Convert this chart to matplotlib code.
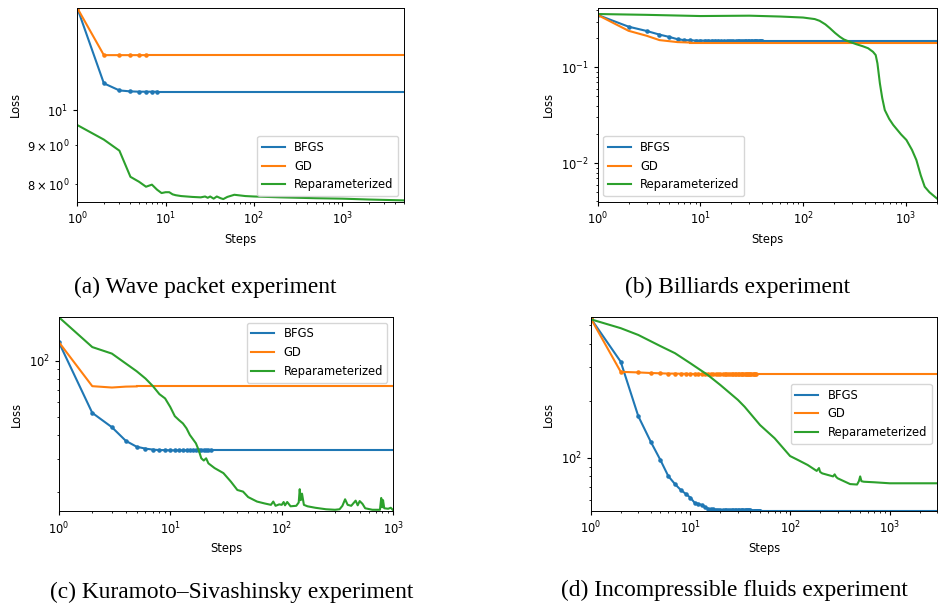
import matplotlib
matplotlib.use("Agg")
import matplotlib.pyplot as plt
from matplotlib.ticker import NullFormatter

plt.rcParams['font.size'] = 8.3
plt.rcParams['axes.linewidth'] = 0.7
plt.rcParams['xtick.major.size'] = 3
plt.rcParams['ytick.major.size'] = 3
plt.rcParams['xtick.minor.size'] = 1.7
plt.rcParams['ytick.minor.size'] = 1.7

names = ["BFGS", "GD", "Reparameterized"]
colors = ["tab:blue", "tab:orange", "tab:green"]

# (a) wave packet -- per-iteration losses start at step 1
a_end = 5000
a_bfgs = [13.6, 10.84, 10.61, 10.58, 10.57, 10.57, 10.57, 10.57]
a_gd = [13.6, 11.8, 11.8, 11.8, 11.8, 11.8]
a_rep_steps = [1, 2, 3, 4, 5, 6, 7, 8, 9, 10, 11, 12, 13, 15, 20, 25, 28, 30, 32, 35,
               38, 42, 45, 50, 60, 80, 100, 200, 500, 1000, 2000, 5000]
a_rep = [9.56, 9.15, 8.85, 8.18, 8.06, 7.94, 7.99, 7.87, 7.79, 7.81, 7.81, 7.76, 7.74,
         7.72, 7.70, 7.69, 7.71, 7.68, 7.71, 7.66, 7.71, 7.67, 7.65, 7.70, 7.75, 7.72,
         7.71, 7.69, 7.67, 7.66, 7.64, 7.62]

# (b) billiards
b_end = 2000
b_bfgs = [0.351, 0.265, 0.239, 0.219, 0.207, 0.196, 0.192, 0.191, 0.190, 0.190,
          0.190, 0.190, 0.190, 0.190, 0.190, 0.189, 0.189, 0.189, 0.189, 0.189,
          0.189, 0.189, 0.189, 0.189, 0.189, 0.189, 0.189, 0.189, 0.189, 0.189,
          0.189, 0.189, 0.189, 0.189, 0.189, 0.189, 0.189, 0.189, 0.189, 0.189]
b_gd = [0.351, 0.240, 0.213, 0.192, 0.187, 0.183, 0.182, 0.181]
b_rep_steps = [1, 3, 10, 30, 60, 100, 130, 145, 165, 183, 205, 228, 250, 275, 330, 380,
               430, 480, 510, 530, 560, 590, 625, 690, 755, 900, 1015, 1150, 1270, 1400,
               1530, 1700, 2000]
b_rep = [0.359, 0.352, 0.342, 0.345, 0.338, 0.330, 0.318, 0.305, 0.280, 0.255, 0.228,
         0.208, 0.195, 0.187, 0.174, 0.166, 0.158, 0.145, 0.134, 0.110, 0.068, 0.048,
         0.0359, 0.029, 0.0251, 0.020, 0.0175, 0.0138, 0.0108, 0.0075, 0.0057, 0.0050,
         0.00432]

# (c) Kuramoto-Sivashinsky
c_end = 1000
c_bfgs = [125.7, 52.6, 44.1, 37.3, 34.7, 33.9, 33.5, 33.3, 33.3, 33.2, 33.2, 33.2,
          33.2, 33.2, 33.2, 33.2, 33.2, 33.2, 33.2, 33.2, 33.2, 33.2, 33.2]
c_gd = [125.7, 73.0, 71.8, 72.6, 72.8]
c_rep_steps = [1, 2, 3, 4, 5, 6, 7, 8, 9, 10, 11, 12, 13, 14, 15, 17, 18, 19, 20, 21,
               22, 25, 30, 35, 40, 45, 50, 60, 70, 80, 84, 88, 95, 100, 104, 107, 112,
               120, 135, 142, 145, 148, 152, 158, 170, 200, 250, 300, 330, 350, 370, 390,
               420, 460, 480, 500, 530, 560, 650, 760, 780, 795, 810, 830, 900, 950, 1000]
c_rep = [170.6, 118.0, 108.9, 96.4, 87.7, 80.2, 73.0, 66.2, 62.8, 56.6, 50.5, 48.1,
         46.2, 43.5, 40.1, 36.2, 33.3, 30.1, 29.3, 30.1, 28.3, 26.7, 25.1, 22.6, 20.4,
         20.0, 18.7, 17.7, 17.3, 17.0, 17.7, 16.8, 17.1, 17.0, 17.6, 16.9, 17.6, 16.7,
         16.8, 17.5, 20.6, 18.0, 19.5, 17.0, 16.7, 16.4, 16.1, 16.0, 16.1, 16.8, 18.2,
         17.0, 16.8, 17.9, 16.9, 17.8, 17.2, 16.3, 16.0, 16.0, 18.5, 16.5, 18.0, 16.3,
         16.2, 16.4, 15.9]

# (d) incompressible fluids
d_end = 3000
d_bfgs = [543, 321, 166, 121.8, 97.6, 80.3, 72.9, 67.9, 64.7, 61.8, 58.2, 57.3, 56.6,
          55.2, 54.1, 53.9, 53.7, 53.5, 53.4, 53.3, 53.3, 53.2, 53.2, 53.2, 53.2, 53.1,
          53.1, 53.1, 53.1, 53.1, 53.0, 53.0, 53.0, 53.0, 53.0, 53.0, 53.0, 53.0, 53.0,
          53.0, 52.9, 52.9, 52.9, 52.9, 52.9, 52.9, 52.9, 52.9, 52.9, 52.9]
d_gd = [543, 284, 282, 280, 279, 278, 278, 277.5, 277.5, 277, 277, 277, 277, 277, 277,
        276.5, 276.5, 276.5, 276.5, 276.5, 276.5, 276.5, 276.5, 276.5, 276.5, 276,
        276, 276, 276, 276, 276, 276, 276, 276, 276, 276, 276, 276, 276, 276, 276, 276,
        276, 276, 276]
d_rep_steps = [1, 2, 3, 5, 7, 10, 15, 20, 30, 35, 50, 70, 100, 120, 150, 185, 195, 200,
               210, 270, 280, 290, 300, 400, 470, 490, 505, 520, 550, 700, 1000, 3000]
d_rep = [537, 482, 444, 388, 356, 315, 273, 242, 202, 186, 149, 127, 102.4, 97.6, 91.9,
         85.5, 88.5, 84.5, 83.0, 80.0, 82.0, 79.5, 78.2, 72.9, 72.5, 75.5, 80.0, 75.5,
         75.0, 74.5, 73.6, 73.6]

panels = [
    dict(pos=[0.0823, 0.6688, 0.3479, 0.3181], end=a_end, bfgs=a_bfgs, gd=a_gd, gd_marks=True,
         rep_steps=a_rep_steps, rep=a_rep, ylim=(7.59, 13.6), loc="lower right", minor_labels=True,
         caption="(a) Wave packet experiment", cap_xy=(205, 287)),
    dict(pos=[0.6365, 0.6688, 0.3610, 0.3181], end=b_end, bfgs=b_bfgs, gd=b_gd, gd_marks=False,
         rep_steps=b_rep_steps, rep=b_rep, ylim=(0.00398, 0.415), loc="lower left", minor_labels=False,
         caption="(b) Billiards experiment", cap_xy=(738, 287)),
    dict(pos=[0.0625, 0.1604, 0.3563, 0.3190], end=c_end, bfgs=c_bfgs, gd=c_gd, gd_marks=False,
         rep_steps=c_rep_steps, rep=c_rep, ylim=(15.7, 170.6), loc="upper right", minor_labels=False,
         caption="(c) Kuramoto\u2013Sivashinsky experiment", cap_xy=(232, 592)),
    dict(pos=[0.6291, 0.1609, 0.3691, 0.3186], end=d_end, bfgs=d_bfgs, gd=d_gd, gd_marks=True,
         rep_steps=d_rep_steps, rep=d_rep, ylim=(52.6, 552), loc="center right", minor_labels=False,
         caption="(d) Incompressible fluids experiment", cap_xy=(734, 590)),
]

fig = plt.figure(figsize=(9.39, 6.09), dpi=100)
W, H = 939, 609

for p in panels:
    ax = fig.add_axes(p["pos"])
    for name, color, vals, marks in [(names[0], colors[0], p["bfgs"], True),
                                     (names[1], colors[1], p["gd"], p["gd_marks"])]:
        steps = list(range(1, len(vals) + 1))
        ax.plot(steps, vals, color=color, lw=1.5, marker='.' if marks else None, ms=4.5)
        ax.plot([steps[-1], p["end"]], [vals[-1], vals[-1]], color=color, lw=1.5, label=name)
    ax.plot(p["rep_steps"], p["rep"], color=colors[2], lw=1.5, label=names[2])
    ax.set_xscale('log')
    ax.set_yscale('log')
    ax.set_xlim(1, p["end"])
    ax.set_ylim(*p["ylim"])
    if not p["minor_labels"]:
        ax.yaxis.set_minor_formatter(NullFormatter())
    ax.set_xlabel("Steps")
    ax.set_ylabel("Loss")
    ax.legend(loc=p["loc"])
    fig.text(p["cap_xy"][0] / W, 1 - p["cap_xy"][1] / H, p["caption"], ha='center', va='center',
             family='Liberation Serif', fontsize=16.8)

fig.savefig("out.png", dpi=100)
